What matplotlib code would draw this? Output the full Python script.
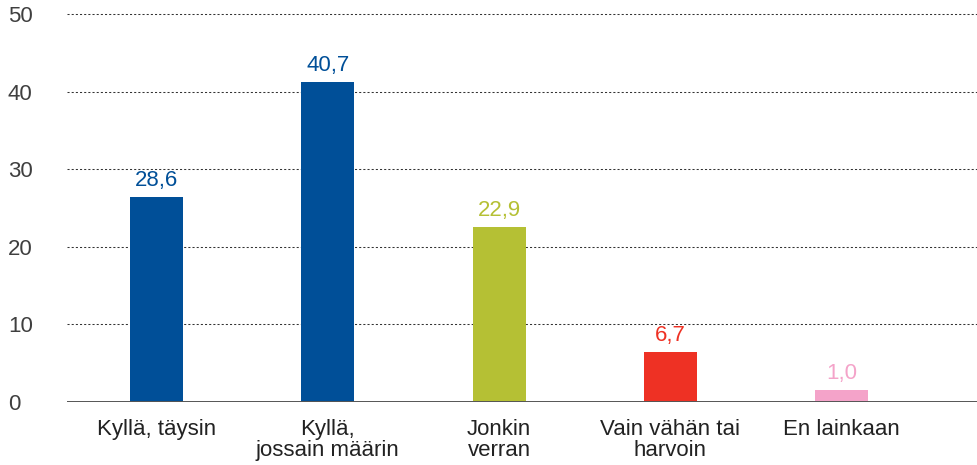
import matplotlib
matplotlib.use("Agg")
import matplotlib.pyplot as plt
import numpy as np

# Data (bar heights as drawn in the reference; labels as printed)
categories = ["Kyllä, täysin", "Kyllä,\njossain määrin", "Jonkin\nverran",
              "Vain vähän tai\nharvoin", "En lainkaan"]
bar_heights = [26.4, 41.2, 22.6, 6.45, 1.5]
value_labels = ["28,6", "40,7", "22,9", "6,7", "1,0"]
bar_colors = ["#004f98", "#004f98", "#b5c034", "#ee3124", "#f4a3c9"]
y_ticks = [0, 10, 20, 30, 40, 50]

plt.rcParams['font.family'] = ['Liberation Sans', 'DejaVu Sans']

W, H = 977, 465
fig = plt.figure(figsize=(W / 100, H / 100), dpi=100)
ax = fig.add_axes([67 / W, 63 / H, 1 - 67 / W, 402 / H])

x = np.arange(len(categories))
ax.bar(x, bar_heights, width=0.309, color=bar_colors, zorder=2)

for xi, h, lab, c in zip(x, bar_heights, value_labels, bar_colors):
    ax.annotate(lab, (xi, h), xytext=(0, 8), textcoords="offset points",
                ha="center", va="baseline", fontsize=16, color=c)

ax.set_xlim(-0.5225, 4.79)
ax.set_ylim(0, 402 / 7.76)

ax.set_yticks(y_ticks)
ax.set_yticklabels([str(t) for t in y_ticks])
for t in y_ticks[1:]:
    ax.axhline(t, color="#333333", lw=0.75, ls=(0, (2, 2)), zorder=1)
ax.axhline(0, color="#555555", lw=1.4, zorder=3)

ax.set_xticks(x)
ax.set_xticklabels(categories, fontsize=16, color="#222222", linespacing=1.05)
ax.tick_params(axis="x", length=0, pad=12)
ax.tick_params(axis="y", length=0, pad=42.5, labelsize=16, labelcolor="#3f3f3f")
for lbl in ax.get_yticklabels():
    lbl.set_horizontalalignment("left")

for s in ax.spines.values():
    s.set_visible(False)

fig.savefig("out.png", dpi=100)
